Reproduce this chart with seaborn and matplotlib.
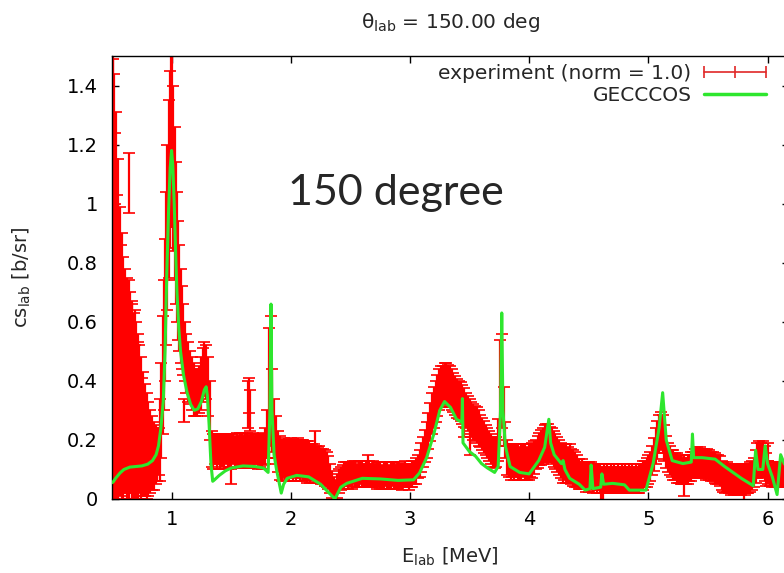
import pandas as pd
import seaborn as sns
import matplotlib.pyplot as plt
from matplotlib.lines import Line2D
from matplotlib.legend_handler import HandlerLine2D

# ---- experiment: energy [MeV], cross section [b/sr], error ----
E_exp = [
    # low-energy cloud
    0.505, 0.52, 0.535, 0.55, 0.565, 0.58, 0.595, 0.61, 0.625, 0.64, 0.655, 0.67, 0.685, 0.70,
    0.715, 0.73, 0.745, 0.76, 0.775, 0.79, 0.805, 0.82, 0.835, 0.85, 0.865, 0.88, 0.895,
    # 1 MeV resonance + shoulder
    0.905, 0.915, 0.925, 0.935, 0.945, 0.955, 0.965, 0.975, 0.985, 0.995, 1.005, 1.015, 1.025,
    1.035, 1.045, 1.055, 1.065, 1.075, 1.085, 1.095, 1.11, 1.125, 1.14, 1.155, 1.17, 1.185, 1.2,
    1.215, 1.23, 1.245, 1.26, 1.275, 1.29, 1.305, 1.32,
    # plateau up to 1.8 MeV peak
    1.335, 1.35, 1.365, 1.38, 1.395, 1.41, 1.425, 1.44, 1.455, 1.47, 1.485, 1.5, 1.515, 1.53,
    1.545, 1.56, 1.575, 1.59, 1.605, 1.62, 1.635, 1.65, 1.665, 1.68, 1.695, 1.71, 1.725, 1.74,
    1.755, 1.77, 1.785, 1.8, 1.815, 1.83, 1.845, 1.86, 1.875,
    # 1.9 - 2.33
    1.895, 1.91, 1.925, 1.94, 1.955, 1.97, 1.985, 2.0, 2.015, 2.03, 2.045, 2.06, 2.075, 2.09,
    2.105, 2.12, 2.135, 2.15, 2.165, 2.18, 2.195, 2.21, 2.225, 2.24, 2.255, 2.27, 2.285, 2.3,
    2.315, 2.33,
    # dip
    2.345, 2.36, 2.375, 2.39, 2.405, 2.42,
    # 2.4 - 3.05
    2.435, 2.45, 2.465, 2.48, 2.495, 2.51, 2.525, 2.54, 2.555, 2.57, 2.585, 2.6, 2.615, 2.63,
    2.645, 2.66, 2.675, 2.69, 2.705, 2.72, 2.735, 2.75, 2.765, 2.78, 2.795, 2.81, 2.825, 2.84,
    2.855, 2.87, 2.885, 2.9, 2.915, 2.93, 2.945, 2.96, 2.975, 2.99, 3.005, 3.02, 3.035, 3.05,
    # broad 3.3 MeV bump + 3.77 spike
    3.065, 3.08, 3.095, 3.11, 3.125, 3.14, 3.155, 3.17, 3.185, 3.2, 3.215, 3.23, 3.245, 3.26,
    3.275, 3.29, 3.305, 3.32, 3.335, 3.35, 3.365, 3.38, 3.395, 3.41, 3.425, 3.44, 3.455, 3.47,
    3.485, 3.5, 3.515, 3.53, 3.545, 3.56, 3.575, 3.59, 3.605, 3.62, 3.635, 3.65, 3.665, 3.68,
    3.695, 3.71, 3.725, 3.74, 3.755, 3.77, 3.785, 3.8,
    # 3.8 - 4.04
    3.815, 3.83, 3.845, 3.86, 3.875, 3.89, 3.905, 3.92, 3.935, 3.95, 3.965, 3.98, 3.995, 4.01,
    4.025, 4.04,
    # 4.15 bump
    4.055, 4.07, 4.085, 4.1, 4.115, 4.13, 4.145, 4.16, 4.175, 4.19, 4.205, 4.22, 4.235, 4.25, 4.265,
    4.28, 4.295, 4.31, 4.325, 4.34, 4.355, 4.37, 4.385, 4.4,
    # 4.4 - 5.0
    4.415, 4.43, 4.445, 4.46, 4.475, 4.49, 4.505, 4.52, 4.535, 4.55, 4.565, 4.58, 4.595, 4.61,
    4.625, 4.64, 4.655, 4.67, 4.685, 4.7, 4.715, 4.73, 4.745, 4.76, 4.775, 4.79, 4.805, 4.82,
    4.835, 4.85, 4.865, 4.88, 4.895, 4.91, 4.925, 4.94, 4.955, 4.97, 4.985,
    # 5.1 peak
    5.0, 5.015, 5.03, 5.045, 5.06, 5.075, 5.09, 5.105, 5.12, 5.135, 5.15, 5.165, 5.18,
    # 5.2 - 6.2
    5.195, 5.21, 5.225, 5.24, 5.255, 5.27, 5.285, 5.3, 5.315, 5.33, 5.345, 5.36, 5.375,
    5.39, 5.405, 5.42, 5.435, 5.45, 5.465, 5.48, 5.495, 5.51, 5.525, 5.54, 5.555, 5.57, 5.585, 5.6,
    5.615, 5.63, 5.645, 5.66, 5.675, 5.69, 5.705, 5.72, 5.735, 5.75, 5.765, 5.78, 5.795, 5.81,
    5.825, 5.84, 5.855, 5.87, 5.885,
    5.9, 5.915, 5.93, 5.945, 5.96, 5.975, 5.99,
    6.005, 6.02, 6.035, 6.05, 6.065, 6.08, 6.095, 6.11, 6.125, 6.14, 6.155, 6.17, 6.185,
]
cs_exp = [
    0.77, 0.72, 0.65, 0.57, 0.50, 0.44, 0.41, 0.40, 0.37, 0.37, 0.36, 0.33, 0.31, 0.30,
    0.28, 0.27, 0.24, 0.22, 0.20, 0.18, 0.17, 0.16, 0.155, 0.145, 0.15, 0.15, 0.16,
    0.2, 0.3, 0.42, 0.52, 0.64, 0.78, 0.92, 1.05, 1.15, 1.22, 1.22, 1.12, 1.0,
    0.9, 0.82, 0.74, 0.68, 0.62, 0.58, 0.54, 0.5, 0.46, 0.43, 0.41, 0.39, 0.37, 0.36,
    0.36, 0.37, 0.39, 0.42, 0.44, 0.43, 0.38, 0.3,
    0.17, 0.16, 0.17, 0.16, 0.17, 0.16, 0.165, 0.16, 0.17, 0.16, 0.165, 0.16, 0.17, 0.16,
    0.165, 0.16, 0.17, 0.165, 0.16, 0.17, 0.165, 0.16, 0.17, 0.165, 0.16, 0.17, 0.16, 0.165,
    0.16, 0.17, 0.18, 0.22, 0.36, 0.4, 0.3, 0.24, 0.2,
    0.16, 0.14, 0.13, 0.14, 0.13, 0.135, 0.13, 0.14, 0.13, 0.135, 0.13, 0.14, 0.13, 0.135,
    0.13, 0.13, 0.125, 0.13, 0.12, 0.125, 0.12, 0.12, 0.115, 0.12, 0.11, 0.11, 0.105, 0.1,
    0.09, 0.07,
    0.05, 0.035, 0.03, 0.045, 0.06, 0.07,
    0.075, 0.08, 0.085, 0.08, 0.085, 0.08, 0.09, 0.085, 0.08, 0.085, 0.09, 0.085, 0.08, 0.085,
    0.08, 0.085, 0.08, 0.085, 0.08, 0.08, 0.085, 0.08, 0.075, 0.08, 0.085, 0.08, 0.075, 0.08,
    0.085, 0.08, 0.075, 0.08, 0.08, 0.075, 0.08, 0.085, 0.08, 0.075, 0.08, 0.085, 0.09, 0.095,
    0.11, 0.12, 0.14, 0.16, 0.18, 0.2, 0.23, 0.26, 0.29, 0.31, 0.33, 0.35, 0.37, 0.38,
    0.38, 0.39, 0.39, 0.385, 0.38, 0.37, 0.36, 0.35, 0.34, 0.335, 0.33, 0.32, 0.31, 0.3,
    0.29, 0.28, 0.27, 0.26, 0.255, 0.25, 0.24, 0.23, 0.22, 0.21, 0.2, 0.19, 0.18, 0.17,
    0.16, 0.155, 0.16, 0.2, 0.36, 0.4, 0.28, 0.2,
    0.14, 0.13, 0.125, 0.13, 0.125, 0.13, 0.125, 0.12, 0.125, 0.13, 0.125, 0.12, 0.125, 0.13,
    0.13, 0.14,
    0.15, 0.16, 0.17, 0.175, 0.18, 0.19, 0.19, 0.19, 0.185, 0.18, 0.17, 0.16, 0.15, 0.14, 0.13,
    0.12, 0.125, 0.12, 0.115, 0.12, 0.11, 0.105, 0.1, 0.095,
    0.085, 0.08, 0.085, 0.08, 0.075, 0.08, 0.075, 0.08, 0.07, 0.075, 0.07, 0.075, 0.07, 0.065,
    0.07, 0.065, 0.07, 0.065, 0.07, 0.065, 0.07, 0.065, 0.07, 0.065, 0.07, 0.065, 0.07, 0.065,
    0.07, 0.065, 0.07, 0.065, 0.07, 0.065, 0.07, 0.075, 0.08, 0.085, 0.09,
    0.1, 0.11, 0.13, 0.15, 0.18, 0.2, 0.22, 0.23, 0.22, 0.19, 0.16, 0.14, 0.13,
    0.12, 0.115, 0.11, 0.105, 0.1, 0.1, 0.095, 0.1, 0.095, 0.1, 0.105, 0.11, 0.115,
    0.12, 0.125, 0.12, 0.125, 0.12, 0.12, 0.115, 0.12, 0.115, 0.11, 0.11, 0.105, 0.1, 0.1, 0.095,
    0.08, 0.075, 0.07, 0.075, 0.07, 0.065, 0.07, 0.065, 0.07, 0.065, 0.07, 0.065, 0.07, 0.065,
    0.07, 0.07, 0.075, 0.08, 0.09,
    0.11, 0.13, 0.135, 0.13, 0.135, 0.12, 0.1,
    0.09, 0.085, 0.08, 0.085, 0.08, 0.085, 0.08, 0.085, 0.08, 0.085, 0.08, 0.085, 0.08,
]
err_exp = [
    0.78, 0.72, 0.66, 0.58, 0.49, 0.46, 0.41, 0.38, 0.38, 0.37, 0.34, 0.33, 0.32, 0.30,
    0.28, 0.25, 0.24, 0.21, 0.19, 0.18, 0.16, 0.14, 0.125, 0.115, 0.10, 0.09, 0.08,
    0.14, 0.16, 0.2, 0.22, 0.24, 0.26, 0.28, 0.3, 0.3, 0.3, 0.3, 0.28, 0.26,
    0.24, 0.22, 0.2, 0.18, 0.16, 0.14, 0.12, 0.1, 0.1, 0.1, 0.09, 0.09, 0.09, 0.08,
    0.08, 0.08, 0.09, 0.09, 0.09, 0.09, 0.1, 0.1,
    0.06, 0.06, 0.05, 0.06, 0.05, 0.06, 0.055, 0.06, 0.05, 0.06, 0.055, 0.06, 0.05, 0.055,
    0.06, 0.05, 0.055, 0.06, 0.055, 0.05, 0.06, 0.055, 0.05, 0.06, 0.055, 0.05, 0.06, 0.055,
    0.06, 0.055, 0.06, 0.08, 0.22, 0.22, 0.14, 0.1, 0.08,
    0.07, 0.075, 0.07, 0.065, 0.07, 0.065, 0.07, 0.065, 0.07, 0.065, 0.07, 0.065, 0.07, 0.065,
    0.07, 0.065, 0.07, 0.065, 0.065, 0.06, 0.065, 0.06, 0.06, 0.06, 0.06, 0.06, 0.06, 0.06,
    0.055, 0.05,
    0.045, 0.04, 0.035, 0.04, 0.04, 0.04,
    0.04, 0.045, 0.04, 0.045, 0.04, 0.045, 0.04, 0.045, 0.04, 0.045, 0.04, 0.045, 0.04, 0.045,
    0.04, 0.045, 0.04, 0.045, 0.04, 0.045, 0.04, 0.045, 0.04, 0.045, 0.04, 0.045, 0.04, 0.045,
    0.04, 0.045, 0.04, 0.045, 0.04, 0.045, 0.04, 0.045, 0.04, 0.045, 0.04, 0.045, 0.04, 0.045,
    0.04, 0.045, 0.05, 0.05, 0.055, 0.06, 0.06, 0.065, 0.07, 0.07, 0.07, 0.07, 0.07, 0.07,
    0.07, 0.07, 0.07, 0.07, 0.07, 0.07, 0.065, 0.065, 0.065, 0.065, 0.065, 0.065, 0.065, 0.06,
    0.06, 0.06, 0.06, 0.06, 0.06, 0.06, 0.06, 0.055, 0.055, 0.055, 0.05, 0.05, 0.05, 0.05,
    0.05, 0.05, 0.05, 0.07, 0.18, 0.16, 0.1, 0.06,
    0.06, 0.055, 0.06, 0.055, 0.06, 0.055, 0.06, 0.055, 0.06, 0.055, 0.06, 0.055, 0.06, 0.055,
    0.06, 0.055,
    0.05, 0.055, 0.055, 0.06, 0.06, 0.06, 0.065, 0.065, 0.06, 0.06, 0.06, 0.06, 0.06, 0.06, 0.06,
    0.065, 0.06, 0.065, 0.06, 0.065, 0.06, 0.06, 0.06, 0.055,
    0.05, 0.045, 0.05, 0.045, 0.05, 0.045, 0.05, 0.045, 0.05, 0.045, 0.05, 0.045, 0.05, 0.045,
    0.05, 0.045, 0.05, 0.045, 0.05, 0.045, 0.05, 0.045, 0.05, 0.045, 0.05, 0.045, 0.05, 0.045,
    0.05, 0.045, 0.05, 0.045, 0.05, 0.045, 0.05, 0.045, 0.05, 0.045, 0.05,
    0.05, 0.05, 0.05, 0.055, 0.06, 0.065, 0.065, 0.065, 0.065, 0.06, 0.055, 0.05, 0.05,
    0.045, 0.05, 0.045, 0.05, 0.045, 0.05, 0.045, 0.05, 0.045, 0.05, 0.045, 0.05, 0.045,
    0.05, 0.05, 0.05, 0.05, 0.05, 0.05, 0.05, 0.05, 0.05, 0.05, 0.05, 0.05, 0.05, 0.05, 0.05,
    0.05, 0.05, 0.05, 0.05, 0.05, 0.05, 0.05, 0.05, 0.05, 0.05, 0.05, 0.05, 0.05, 0.05,
    0.05, 0.05, 0.05, 0.05, 0.05,
    0.055, 0.06, 0.06, 0.06, 0.06, 0.06, 0.055,
    0.04, 0.04, 0.04, 0.04, 0.04, 0.04, 0.04, 0.04, 0.04, 0.04, 0.04, 0.04, 0.04,
]

# isolated points sticking out of the band
E_stray = [0.51, 0.525, 0.545, 0.575, 0.60, 0.64, 0.665, 0.69, 0.72, 0.75, 1.1,
           1.64, 1.65, 1.66, 1.5, 2.2, 2.65, 3.45, 3.5, 4.6, 4.62, 5.3, 5.8, 6.0]
cs_stray = [1.32, 1.12, 0.93, 0.78, 0.62, 1.07, 0.55, 0.58, 0.47, 0.36, 0.3,
            0.32, 0.35, 0.3, 0.08, 0.2, 0.13, 0.25, 0.2, 0.01, 0.0, 0.05, 0.0, 0.16]
err_stray = [0.17, 0.12, 0.1, 0.08, 0.06, 0.1, 0.12, 0.06, 0.06, 0.05, 0.04,
             0.08, 0.06, 0.07, 0.03, 0.03, 0.02, 0.04, 0.05, 0.02, 0.02, 0.04, 0.02, 0.03]

# ---- GECCCOS calculation ----
E_th = [0.5, 0.51, 0.53, 0.567, 0.6, 0.65, 0.7, 0.75, 0.8, 0.84, 0.87, 0.89, 0.91, 0.93, 0.945,
        0.96, 0.975, 0.988, 1.0, 1.01, 1.022, 1.035, 1.045, 1.06, 1.075, 1.1, 1.13, 1.16, 1.19,
        1.22, 1.25, 1.275, 1.29, 1.3, 1.315, 1.33, 1.345, 1.36, 1.4, 1.45, 1.5, 1.6, 1.7, 1.77,
        1.81, 1.825, 1.834, 1.842, 1.86, 1.88, 1.9, 1.92, 1.94, 1.97, 2.05, 2.15, 2.25, 2.31,
        2.37, 2.42, 2.47, 2.6, 2.75, 2.9, 3.03, 3.08, 3.14, 3.2, 3.25, 3.29, 3.34, 3.39, 3.435,
        3.44, 3.445, 3.5, 3.55, 3.6, 3.65, 3.71, 3.74, 3.76, 3.77, 3.78, 3.8, 3.84, 3.92, 4.0,
        4.08, 4.13, 4.165, 4.18, 4.21, 4.27, 4.285, 4.3, 4.34, 4.42, 4.47, 4.51, 4.52, 4.535,
        4.6, 4.61, 4.625, 4.7, 4.8, 4.84, 4.98, 5.04, 5.09, 5.12, 5.15, 5.2, 5.29, 5.36, 5.37,
        5.38, 5.45, 5.56, 5.64, 5.78, 5.88, 5.9, 5.92, 5.96, 5.98, 6.0, 6.04, 6.08, 6.11, 6.14,
        6.18]
cs_th = [0.055, 0.058, 0.07, 0.088, 0.1, 0.108, 0.11, 0.112, 0.118, 0.13, 0.15, 0.18, 0.24, 0.33,
         0.5, 0.77, 0.98, 1.12, 1.18, 1.13, 1.0, 0.82, 0.7, 0.58, 0.5, 0.42, 0.36, 0.32, 0.3,
         0.305, 0.33, 0.37, 0.38, 0.35, 0.25, 0.12, 0.06, 0.065, 0.08, 0.095, 0.105, 0.112, 0.11,
         0.105, 0.09, 0.3, 0.66, 0.3, 0.15, 0.1, 0.06, 0.02, 0.05, 0.07, 0.08, 0.075, 0.05, 0.025,
         0.0, 0.04, 0.053, 0.07, 0.068, 0.063, 0.065, 0.088, 0.14, 0.22, 0.3, 0.33, 0.31, 0.27,
         0.26, 0.34, 0.19, 0.16, 0.145, 0.12, 0.105, 0.09, 0.11, 0.3, 0.63, 0.3, 0.18, 0.11, 0.09,
         0.085, 0.13, 0.175, 0.27, 0.19, 0.15, 0.12, 0.13, 0.1, 0.07, 0.05, 0.03, 0.035, 0.115,
         0.035, 0.04, 0.085, 0.05, 0.053, 0.048, 0.03, 0.03, 0.12, 0.24, 0.36, 0.2, 0.13, 0.12,
         0.125, 0.22, 0.14, 0.14, 0.135, 0.11, 0.07, 0.045, 0.165, 0.1, 0.1, 0.18, 0.12, 0.075,
         0.015, 0.15, 0.12, 0.1]

exp = pd.DataFrame({"E": E_exp, "cs": cs_exp, "err": err_exp})
stray = pd.DataFrame({"E": E_stray, "cs": cs_stray, "err": err_stray})
theory = pd.DataFrame({"E": E_th, "cs": cs_th})

sns.set_style("ticks")
plt.rcParams["font.family"] = ["DejaVu Sans"]
plt.rcParams["mathtext.fontset"] = "dejavusans"

red = "#ff0000"
green = "#2ee62e"

fig = plt.figure(figsize=(7.84, 5.73), dpi=100)
# gnuplot-like frame; right edge runs just past the picture
ax = fig.add_axes([112 / 784, 74 / 573, 677 / 784, 443 / 573])

for d in (exp, stray):
    ax.errorbar(d["E"], d["cs"], yerr=d["err"], fmt="none", ecolor=red,
                elinewidth=1.6, capsize=4.5, capthick=1.2, zorder=2)

sns.lineplot(data=theory, x="E", y="cs", color=green, lw=2.2, ax=ax,
             estimator=None, sort=False, legend=False, zorder=3)

ax.set_xlim(0.5, 6.18)
ax.set_ylim(0, 1.5)
ax.set_xticks([1, 2, 3, 4, 5, 6])
ax.set_xticklabels(["1", "2", "3", "4", "5", "6"])
ax.set_yticks([0, 0.2, 0.4, 0.6, 0.8, 1.0, 1.2, 1.4])
ax.set_yticklabels(["0", "0.2", "0.4", "0.6", "0.8", "1", "1.2", "1.4"])
ax.tick_params(direction="in", length=5, width=1, top=True, right=True,
               labelsize=14, colors="black")
ax.tick_params(axis="x", pad=8)
ax.tick_params(axis="y", pad=10)
for s in ax.spines.values():
    s.set_visible(True)
    s.set_linewidth(1)
    s.set_color("black")

ax.set_xlabel(r"E$_{\rm lab}$ [MeV]", fontsize=14)
ax.set_ylabel(r"cs$_{\rm lab}$ [b/sr]", fontsize=14)
ax.xaxis.set_label_coords((450 - 112) / 677, -0.105)
ax.yaxis.set_label_coords((33 - 112) / 677, 0.5)
ax.set_title("θ$_{\\rm lab}$ = 150.00 deg", fontsize=14.5, pad=20)

fig.text(288 / 784, 1 - 205 / 573, "150 degree", fontsize=31,
         family=["Lato", "DejaVu Sans"], ha="left", va="baseline")

h_exp = Line2D([], [], color="#e02828", lw=1.2, marker="|", markersize=9,
               markeredgewidth=1.2)
h_th = Line2D([], [], color=green, lw=2.5)
ax.legend([h_exp, h_th], ["experiment (norm = 1.0)", "GECCCOS"],
          loc="upper right", bbox_to_anchor=(766 / 784, 1 - 64 / 573),
          bbox_transform=fig.transFigure, frameon=False, markerfirst=False,
          borderpad=0, borderaxespad=0, handlelength=3.1, handletextpad=0.6,
          labelspacing=0.15, fontsize=14.5,
          handler_map={h_exp: HandlerLine2D(numpoints=3, marker_pad=0)})

fig.savefig("out.png", dpi=100)
